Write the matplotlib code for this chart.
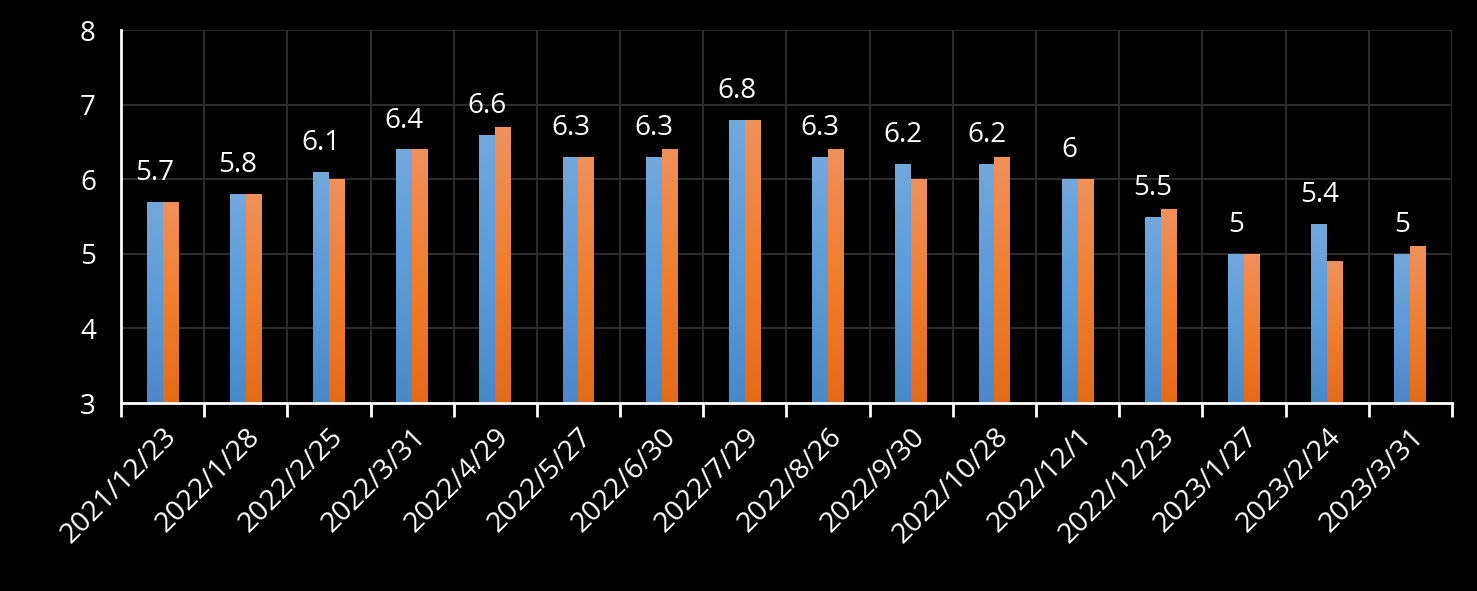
import numpy as np
import matplotlib
matplotlib.use("Agg")
import matplotlib.pyplot as plt
from matplotlib.colors import LinearSegmentedColormap

categories = ["2021/12/23", "2022/1/28", "2022/2/25", "2022/3/31", "2022/4/29",
              "2022/5/27", "2022/6/30", "2022/7/29", "2022/8/26", "2022/9/30",
              "2022/10/28", "2022/12/1", "2022/12/23", "2023/1/27", "2023/2/24",
              "2023/3/31"]
series_blue = [5.7, 5.8, 6.1, 6.4, 6.6, 6.3, 6.3, 6.8, 6.3, 6.2, 6.2, 6.0, 5.5, 5.0, 5.4, 5.0]
series_orange = [5.7, 5.8, 6.0, 6.4, 6.7, 6.3, 6.4, 6.8, 6.4, 6.0, 6.3, 6.0, 5.6, 5.0, 4.9, 5.1]
blue_labels = ["5.7", "5.8", "6.1", "6.4", "6.6", "6.3", "6.3", "6.8", "6.3", "6.2",
               "6.2", "6", "5.5", "5", "5.4", "5"]
y_ticks = [3, 4, 5, 6, 7, 8]

plt.rcParams['font.family'] = ['Open Sans', 'DejaVu Sans']

fig = plt.figure(figsize=(14.77, 5.91), dpi=100, facecolor='black')
ax = fig.add_axes([0.0819, 0.318, 0.9011, 0.631])
ax.set_facecolor('black')

x = np.arange(len(categories))
w = 0.19
blue_cmap = LinearSegmentedColormap.from_list('b', ['#4a89c8', '#5b9bd8', '#73a8dc'])
orange_cmap = LinearSegmentedColormap.from_list('o', ['#e46a17', '#f07f2e', '#f0905a'])

def grad_bars(xs, vals, cmap):
    bars = ax.bar(xs, [v - 3 for v in vals], w, bottom=3, color='none', edgecolor='none', zorder=3)
    grad = np.linspace(0, 1, 256).reshape(-1, 1)
    for b in bars:
        x0, y0 = b.get_x(), b.get_y()
        x1, y1 = x0 + b.get_width(), y0 + b.get_height()
        im = ax.imshow(grad, cmap=cmap, origin='lower', extent=[x0, x1, y0, y1],
                       aspect='auto', zorder=3, interpolation='bilinear')
        im.set_clip_path(b)
    return bars

grad_bars(x - w / 2, series_blue, blue_cmap)
grad_bars(x + w / 2, series_orange, orange_cmap)

for xi, v, lab in zip(x, series_blue, blue_labels):
    ax.text(xi - w / 2, v + 0.2, lab, ha='center', va='bottom', color='white', fontsize=20, zorder=4)

ax.set_xlim(-0.5, len(categories) - 0.5)
ax.set_ylim(3, 8)
ax.set_yticks(y_ticks)
ax.set_yticklabels([str(t) for t in y_ticks], color='white', fontsize=20)
ax.tick_params(axis='y', length=0, pad=18)

ax.set_xticks(x)
ax.set_xticklabels(categories, rotation=45, ha='right', va='top', rotation_mode='anchor',
                   color='white', fontsize=20.5)
ax.set_xticks(np.arange(-0.5, len(categories)), minor=True)
ax.tick_params(axis='x', which='major', length=0, pad=14)
ax.tick_params(axis='x', which='minor', length=10, width=2, color='white')

ax.grid(True, which='minor', axis='x', color='#2b2b2b', linewidth=1.5, zorder=0)
ax.grid(True, which='major', axis='y', color='#2b2b2b', linewidth=1.5, zorder=0)
ax.set_axisbelow(True)

for s in ['top', 'right']:
    ax.spines[s].set_visible(False)
ax.spines['left'].set_color('white')
ax.spines['left'].set_linewidth(2)
ax.spines['bottom'].set_color('white')
ax.spines['bottom'].set_linewidth(2)
ax.spines['left'].set_zorder(5)
ax.spines['bottom'].set_zorder(5)

fig.savefig('out.png', dpi=100, facecolor='black')
